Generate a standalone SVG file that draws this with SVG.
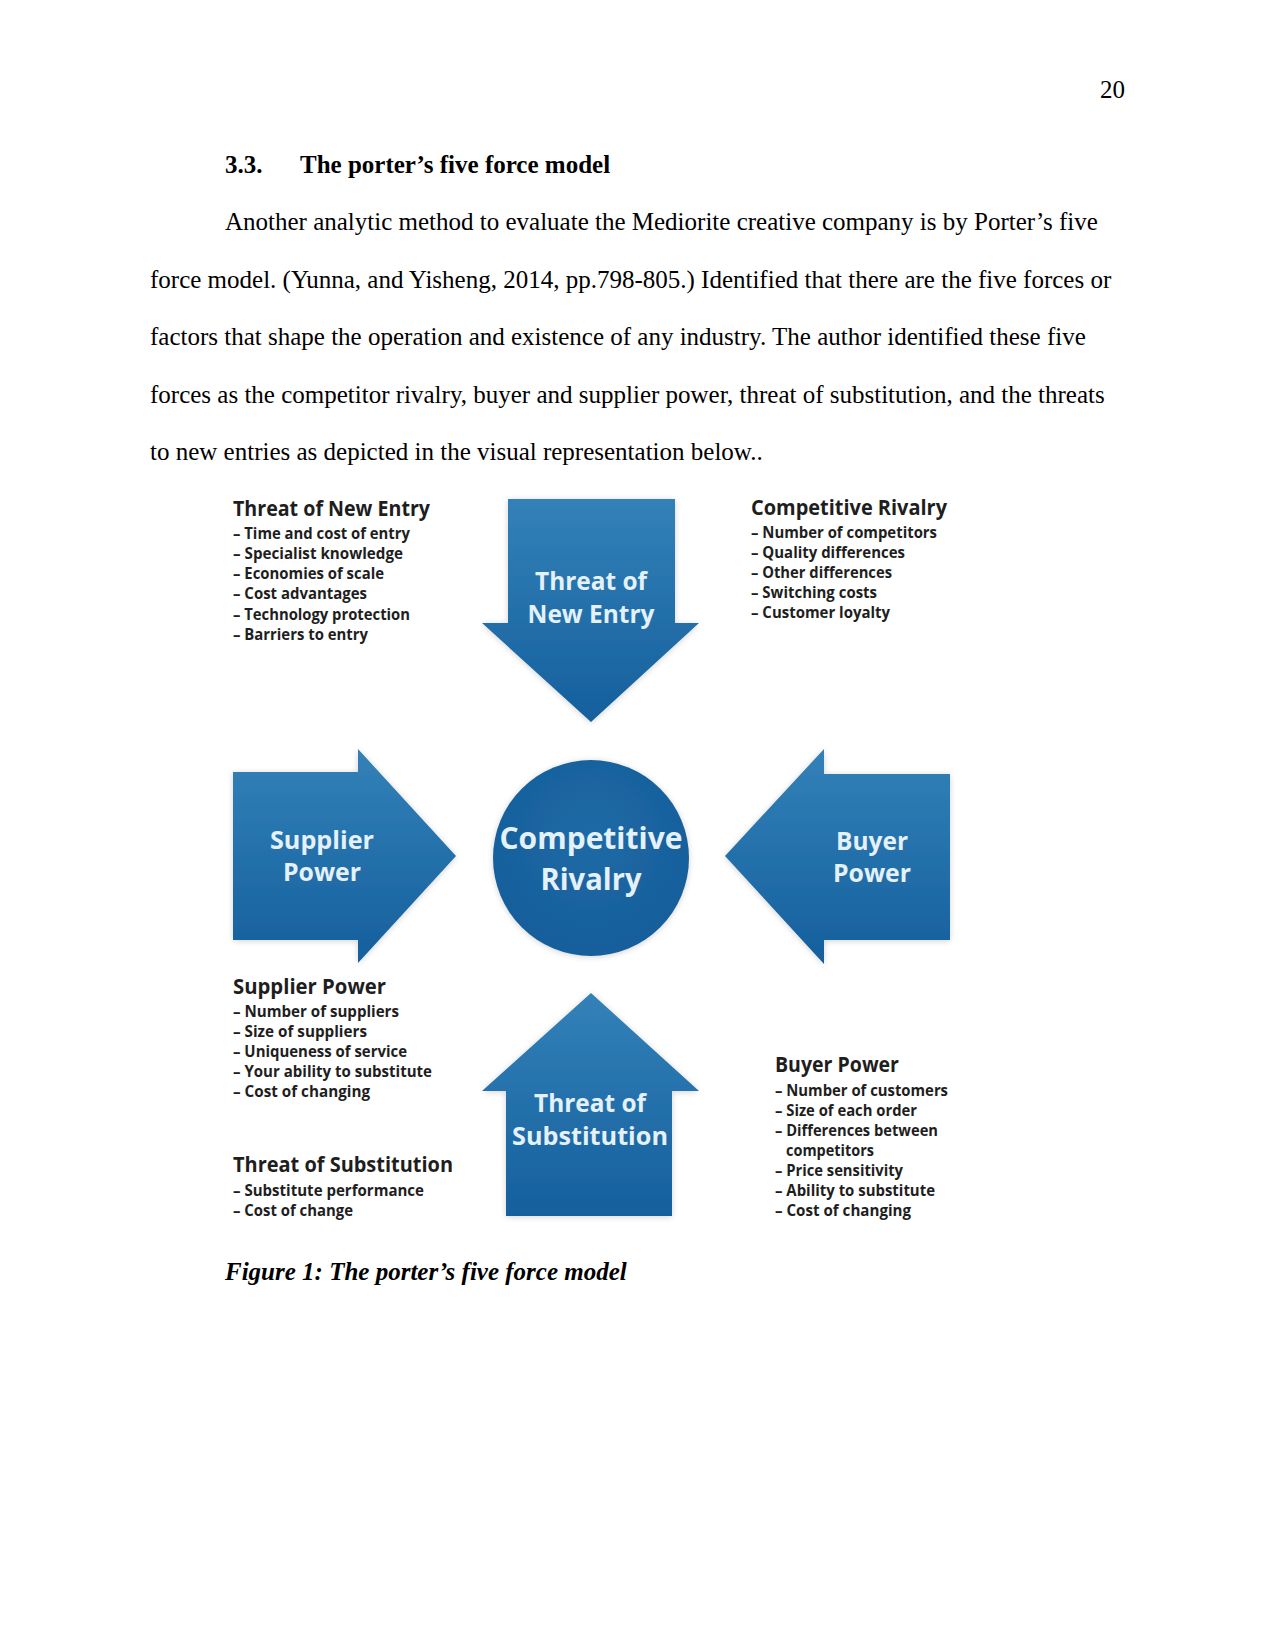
<svg xmlns="http://www.w3.org/2000/svg" width="1275" height="1651" viewBox="0 0 1275 1651">
<defs>
<style>
.doc{font-family:"Liberation Serif","Times New Roman",serif;font-size:25px;fill:#000}
.b{font-weight:bold}
.lt{font-family:"Open Sans","Lato","Liberation Sans",sans-serif;font-weight:700;fill:#1e1e1e}
.h{font-size:21px}
.i{font-size:16.5px}
.sl{font-family:"Open Sans","Lato","Liberation Sans",sans-serif;font-weight:700;fill:#e4f1f9;text-anchor:middle}
.shape{fill:url(#g);filter:url(#sh)}
</style>
<linearGradient id="g" x1="0" y1="0" x2="0" y2="1">
<stop offset="0" stop-color="#3381b8"/>
<stop offset="1" stop-color="#155f9d"/>
</linearGradient>
<radialGradient id="gc" cx="0.5" cy="0.4" r="0.6">
<stop offset="0" stop-color="#1f6aa6"/>
<stop offset="1" stop-color="#155e9b"/>
</radialGradient>
<filter id="sh" x="-10%" y="-10%" width="120%" height="120%">
<feGaussianBlur in="SourceAlpha" stdDeviation="3"/>
<feOffset dx="0" dy="1"/>
<feComponentTransfer><feFuncA type="linear" slope="0.18"/></feComponentTransfer>
<feMerge><feMergeNode/><feMergeNode in="SourceGraphic"/></feMerge>
</filter>
</defs>
<rect width="1275" height="1651" fill="#fff"/>

<g id="page-text">
<text class="doc" x="1125" y="98" text-anchor="end">20</text>
<text class="doc b" x="225" y="173">3.3.</text>
<text class="doc b" x="300" y="173">The porter’s five force model</text>
<text class="doc" x="225" y="230">Another analytic method to evaluate the Mediorite creative company is by Porter’s five</text>
<text class="doc" x="150" y="288">force model. (Yunna, and Yisheng, 2014, pp.798-805.) Identified that there are the five forces or</text>
<text class="doc" x="150" y="345">factors that shape the operation and existence of any industry. The author identified these five</text>
<text class="doc" x="150" y="403">forces as the competitor rivalry, buyer and supplier power, threat of substitution, and the threats</text>
<text class="doc" x="150" y="460">to new entries as depicted in the visual representation below..</text>
<text class="doc b" x="225" y="1280" font-style="italic">Figure 1: The porter’s five force model</text>
</g>

<g id="connectors"></g>

<g id="threat-new-entry">
<polygon class="shape" points="508,499 675,499 675,623 699,623 591,722 482,623 508,623"/>
<text class="sl" font-size="25" x="591" y="590" textLength="112" lengthAdjust="spacingAndGlyphs">Threat of</text>
<text class="sl" font-size="25" x="591" y="623" textLength="127" lengthAdjust="spacingAndGlyphs">New Entry</text>
</g>

<g id="supplier-power">
<polygon class="shape" points="233,772 358,772 358,749 456,856 358,963 358,940 233,940"/>
<text class="sl" font-size="25" x="322" y="849" textLength="104" lengthAdjust="spacingAndGlyphs">Supplier</text>
<text class="sl" font-size="25" x="322" y="881" textLength="78" lengthAdjust="spacingAndGlyphs">Power</text>
</g>

<g id="competitive-rivalry">
<circle cx="591" cy="858" r="98" fill="url(#gc)" filter="url(#sh)"/>
<text class="sl" font-size="31" x="591" y="849" textLength="183" lengthAdjust="spacingAndGlyphs">Competitive</text>
<text class="sl" font-size="31" x="591" y="890" textLength="101" lengthAdjust="spacingAndGlyphs">Rivalry</text>
</g>

<g id="buyer-power">
<polygon class="shape" points="950,774 824,774 824,749 725,856 824,964 824,940 950,940"/>
<text class="sl" font-size="25" x="872" y="850" textLength="72" lengthAdjust="spacingAndGlyphs">Buyer</text>
<text class="sl" font-size="25" x="872" y="882" textLength="78" lengthAdjust="spacingAndGlyphs">Power</text>
</g>

<g id="threat-substitution">
<polygon class="shape" points="591,993 699,1091 672,1091 672,1216 506,1216 506,1091 482,1091"/>
<text class="sl" font-size="25" x="590" y="1112" textLength="112" lengthAdjust="spacingAndGlyphs">Threat of</text>
<text class="sl" font-size="25" x="590" y="1145" textLength="156" lengthAdjust="spacingAndGlyphs">Substitution</text>
</g>

<g id="list-new-entry" class="lt">
<text class="h" x="233" y="516" textLength="197" lengthAdjust="spacingAndGlyphs">Threat of New Entry</text>
<text class="i" x="233" y="539" textLength="177" lengthAdjust="spacingAndGlyphs">– Time and cost of entry</text>
<text class="i" x="233" y="559" textLength="170" lengthAdjust="spacingAndGlyphs">– Specialist knowledge</text>
<text class="i" x="233" y="579" textLength="151" lengthAdjust="spacingAndGlyphs">– Economies of scale</text>
<text class="i" x="233" y="599" textLength="134" lengthAdjust="spacingAndGlyphs">– Cost advantages</text>
<text class="i" x="233" y="620" textLength="177" lengthAdjust="spacingAndGlyphs">– Technology protection</text>
<text class="i" x="233" y="640" textLength="135" lengthAdjust="spacingAndGlyphs">– Barriers to entry</text>
</g>

<g id="list-rivalry" class="lt">
<text class="h" x="751" y="515" textLength="196" lengthAdjust="spacingAndGlyphs">Competitive Rivalry</text>
<text class="i" x="751" y="538" textLength="186" lengthAdjust="spacingAndGlyphs">– Number of competitors</text>
<text class="i" x="751" y="558" textLength="154" lengthAdjust="spacingAndGlyphs">– Quality differences</text>
<text class="i" x="751" y="578" textLength="141" lengthAdjust="spacingAndGlyphs">– Other differences</text>
<text class="i" x="751" y="598" textLength="126" lengthAdjust="spacingAndGlyphs">– Switching costs</text>
<text class="i" x="751" y="618" textLength="139" lengthAdjust="spacingAndGlyphs">– Customer loyalty</text>
</g>

<g id="list-supplier" class="lt">
<text class="h" x="233" y="994" textLength="153" lengthAdjust="spacingAndGlyphs">Supplier Power</text>
<text class="i" x="233" y="1017" textLength="166" lengthAdjust="spacingAndGlyphs">– Number of suppliers</text>
<text class="i" x="233" y="1037" textLength="134" lengthAdjust="spacingAndGlyphs">– Size of suppliers</text>
<text class="i" x="233" y="1057" textLength="174" lengthAdjust="spacingAndGlyphs">– Uniqueness of service</text>
<text class="i" x="233" y="1077" textLength="199" lengthAdjust="spacingAndGlyphs">– Your ability to substitute</text>
<text class="i" x="233" y="1097" textLength="137" lengthAdjust="spacingAndGlyphs">– Cost of changing</text>
</g>

<g id="list-substitution" class="lt">
<text class="h" x="233" y="1172" textLength="220" lengthAdjust="spacingAndGlyphs">Threat of Substitution</text>
<text class="i" x="233" y="1196" textLength="191" lengthAdjust="spacingAndGlyphs">– Substitute performance</text>
<text class="i" x="233" y="1216" textLength="120" lengthAdjust="spacingAndGlyphs">– Cost of change</text>
</g>

<g id="list-buyer" class="lt">
<text class="h" x="775" y="1072" textLength="124" lengthAdjust="spacingAndGlyphs">Buyer Power</text>
<text class="i" x="775" y="1096" textLength="173" lengthAdjust="spacingAndGlyphs">– Number of customers</text>
<text class="i" x="775" y="1116" textLength="142" lengthAdjust="spacingAndGlyphs">– Size of each order</text>
<text class="i" x="775" y="1136" textLength="163" lengthAdjust="spacingAndGlyphs">– Differences between</text>
<text class="i" x="786" y="1156" textLength="88" lengthAdjust="spacingAndGlyphs">competitors</text>
<text class="i" x="775" y="1176" textLength="128" lengthAdjust="spacingAndGlyphs">– Price sensitivity</text>
<text class="i" x="775" y="1196" textLength="160" lengthAdjust="spacingAndGlyphs">– Ability to substitute</text>
<text class="i" x="775" y="1216" textLength="136" lengthAdjust="spacingAndGlyphs">– Cost of changing</text>
</g>
</svg>
